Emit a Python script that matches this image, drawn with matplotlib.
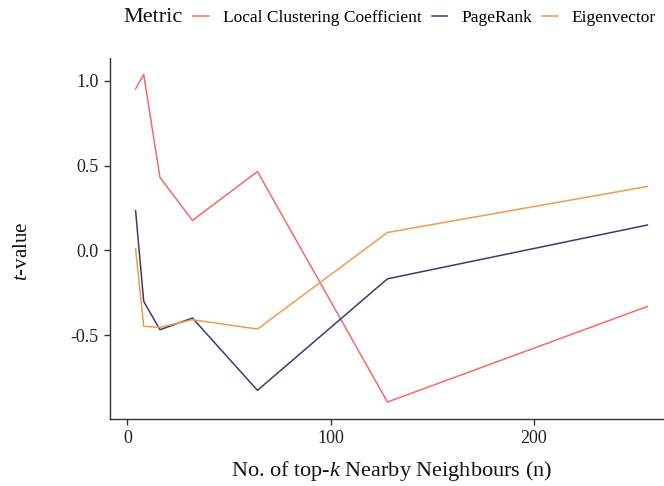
import matplotlib.pyplot as plt

plt.rcParams['font.family'] = ['Liberation Serif', 'DejaVu Serif']
plt.rcParams['mathtext.fontset'] = 'custom'
plt.rcParams['mathtext.it'] = 'Liberation Serif:italic'
plt.rcParams['mathtext.rm'] = 'Liberation Serif'

# top-k neighbourhood sizes
k_values = [4, 8, 16, 32, 64, 128, 256]

# t-values per centrality metric
local_clustering = [0.952, 1.037, 0.430, 0.177, 0.465, -0.893, -0.330]
pagerank = [0.234, -0.300, -0.467, -0.398, -0.824, -0.167, 0.150]
eigenvector = [0.010, -0.447, -0.453, -0.408, -0.463, 0.106, 0.377]

metric_names = ['Local Clustering Coefficient', 'PageRank', 'Eigenvector']
metric_colors = ['#F7696B', '#3A3D6B', '#EE9C4E']

fig = plt.figure(figsize=(6.64, 4.86), dpi=100)
# panel runs slightly past the right edge of the figure
ax = fig.add_axes([110 / 664, 1 - 418.5 / 486, 563 / 664, 360.5 / 486])

series = [local_clustering, pagerank, eigenvector]
for vals, name, col in zip(series, metric_names, metric_colors):
    ax.plot(k_values, vals, color=col, lw=1.1, label=name)

ax.set_xlim(4 - 12.6, 256 + 12.6)
ax.set_ylim(-0.99, 1.134)
ax.set_xticks([0, 100, 200])
ax.set_yticks([-0.5, 0.0, 0.5, 1.0])
ax.set_yticklabels(['-0.5', '0.0', '0.5', '1.0'])

for side in ['top', 'right']:
    ax.spines[side].set_visible(False)
for side in ['left', 'bottom']:
    ax.spines[side].set_color('#333333')
    ax.spines[side].set_linewidth(1.0)
ax.tick_params(axis='both', direction='out', length=4, width=1.0, color='#333333',
               labelsize=13, labelcolor='#222222', pad=4)

ax.set_xlabel('No. of top-$k$ Nearby Neighbours (n)', fontsize=16, color='#111111', labelpad=9)
ax.set_ylabel('$t$-value', fontsize=15, color='#111111')
ax.yaxis.set_label_coords(-0.138, 0.465)

fig.text(123 / 664, 1 - 18 / 486, 'Metric', fontsize=16, color='#111111', va='center', ha='left')
leg = fig.legend(loc='center left', bbox_to_anchor=(193 / 664, 1 - 18 / 486), ncol=3,
                 frameon=False, fontsize=12.5, handlelength=0.9, handletextpad=0.8,
                 columnspacing=0.6, borderaxespad=0, borderpad=0)

fig.savefig('out.png', dpi=100)
